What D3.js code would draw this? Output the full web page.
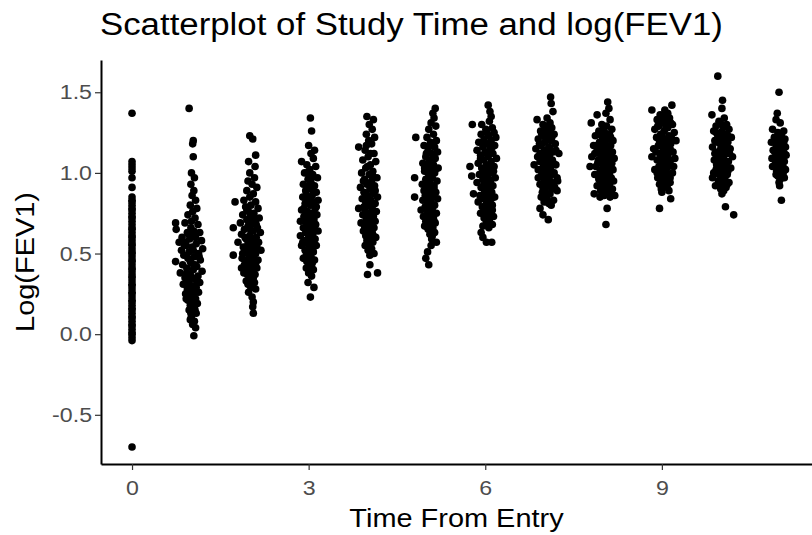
<!DOCTYPE html>
<html>
<head>
<meta charset="utf-8">
<script src="https://cdn.jsdelivr.net/npm/d3@7"></script>
<style>
  body { margin:0; background:#fff; }
  svg { font-family: "Liberation Sans", Arial, sans-serif; }
</style>
</head>
<body>
<div id="chart"></div>
<script>
// baseline visit: everyone at time 0
const visit0 = [1.37,1.07,1.05,1.03,1.01,0.97,0.91,0.85,0.83,0.82,0.80,0.78,0.77,0.75,0.73,0.72,0.70,0.68,0.66,0.65,0.63,0.61,0.60,0.58,0.56,0.55,0.53,0.51,0.50,0.48,0.46,0.45,0.43,0.41,0.40,0.38,0.36,0.35,0.33,0.31,0.30,0.28,0.26,0.25,0.23,0.21,0.20,0.18,0.16,0.15,0.13,0.11,0.10,0.08,0.06,0.05,0.03,0.01,0.00,-0.02,-0.04,-0.70];

// follow up visits: [time from entry, log(FEV1)]
const visit1 = [[0.97,1.40],[1.04,1.20],[1.03,1.18],[1.04,1.10],[1.01,1.00],[1.06,0.97],[1.00,0.93],[1.05,0.89],[1.02,0.86],[1.08,0.83],[0.99,0.80],[1.10,0.78],[1.03,0.76],[0.95,0.74],[1.07,0.72],[0.74,0.69],[0.90,0.69],[1.12,0.68],[0.75,0.65],[1.00,0.66],[0.94,0.63],[1.15,0.63],[1.05,0.61],[0.85,0.60],[0.98,0.59],[1.18,0.58],[0.80,0.57],[1.09,0.56],[0.92,0.55],[1.02,0.54],[1.20,0.53],[0.84,0.52],[0.97,0.51],[1.13,0.50],[0.88,0.49],[1.06,0.48],[0.74,0.45],[0.95,0.47],[1.16,0.46],[1.01,0.44],[0.86,0.43],[1.10,0.42],[0.93,0.41],[1.04,0.40],[1.19,0.39],[0.82,0.38],[0.99,0.37],[1.12,0.36],[0.90,0.35],[1.07,0.34],[0.96,0.33],[1.15,0.32],[0.87,0.31],[1.02,0.30],[1.09,0.29],[0.94,0.28],[1.00,0.27],[1.13,0.26],[0.91,0.25],[1.05,0.24],[0.98,0.23],[1.08,0.22],[0.95,0.21],[1.03,0.20],[1.11,0.19],[0.99,0.18],[1.06,0.17],[0.97,0.15],[1.04,0.14],[1.09,0.13],[1.01,0.11],[0.99,0.09],[1.06,0.08],[1.03,0.06],[1.08,0.04],[1.05,-0.01],
  [0.96,0.62],[1.08,0.60],[0.91,0.57],[1.04,0.52],[0.99,0.45],[1.07,0.43],[0.93,0.38],[1.02,0.35],[1.11,0.33],[0.97,0.29],[1.05,0.27],[0.92,0.22],[1.01,0.21],[1.07,0.15],[1.00,0.13],[0.89,0.55],[1.14,0.48],[1.01,0.70],[1.05,0.64]];
const visit2 = [[2.00,1.23],[2.05,1.21],[2.10,1.11],[1.98,1.07],[2.09,1.04],[2.00,1.00],[2.08,0.97],[1.97,0.95],[2.04,0.93],[2.12,0.91],[1.95,0.89],[2.06,0.87],[2.00,0.85],[1.90,0.83],[1.75,0.82],[2.10,0.82],[2.02,0.80],[1.93,0.79],[2.14,0.78],[1.98,0.76],[2.07,0.75],[1.88,0.74],[2.01,0.73],[2.16,0.72],[1.95,0.71],[2.09,0.70],[1.84,0.69],[2.03,0.68],[1.72,0.66],[1.97,0.67],[2.13,0.66],[1.91,0.65],[2.06,0.64],[2.18,0.63],[1.86,0.62],[2.00,0.61],[2.11,0.60],[1.94,0.59],[2.04,0.58],[1.80,0.57],[2.15,0.57],[1.97,0.56],[2.08,0.55],[1.89,0.54],[2.02,0.53],[2.19,0.52],[1.93,0.51],[2.10,0.50],[1.72,0.49],[1.99,0.49],[2.05,0.47],[1.87,0.47],[2.14,0.46],[1.96,0.45],[2.07,0.44],[1.91,0.43],[2.01,0.42],[2.12,0.41],[1.86,0.41],[1.95,0.40],[2.05,0.39],[1.90,0.38],[2.09,0.37],[1.99,0.36],[2.03,0.34],[1.94,0.33],[2.08,0.32],[1.97,0.31],[2.02,0.29],[2.10,0.28],[1.98,0.26],[2.04,0.23],[2.06,0.20],[2.05,0.17],[2.06,0.13],
  [2.02,0.64],[1.92,0.60],[2.08,0.58],[1.98,0.53],[2.12,0.54],[1.88,0.50],[2.04,0.50],[1.93,0.46],[2.10,0.44],[2.00,0.40],[1.96,0.37],[2.06,0.35],[1.99,0.70],[2.11,0.68],[1.95,0.77],[2.05,0.73],[2.01,0.30]];
const visit3 = [[3.03,1.34],[3.05,1.26],[3.00,1.17],[3.10,1.14],[3.04,1.12],[2.88,1.07],[3.08,1.09],[2.97,1.05],[3.12,1.04],[3.02,1.02],[2.93,1.00],[3.07,0.99],[3.15,0.97],[2.99,0.96],[3.04,0.94],[2.91,0.93],[3.10,0.92],[3.01,0.90],[2.95,0.89],[3.13,0.88],[3.06,0.86],[2.90,0.85],[3.00,0.84],[3.16,0.83],[3.08,0.82],[2.94,0.81],[3.03,0.80],[3.11,0.78],[2.88,0.77],[2.98,0.76],[3.06,0.75],[3.14,0.74],[2.92,0.73],[3.02,0.72],[3.09,0.71],[2.86,0.70],[2.97,0.69],[3.12,0.68],[3.04,0.67],[2.91,0.66],[3.00,0.65],[3.16,0.64],[2.95,0.63],[3.07,0.62],[2.86,0.61],[3.02,0.60],[3.11,0.59],[2.93,0.58],[3.05,0.57],[2.98,0.56],[2.88,0.55],[3.13,0.55],[3.01,0.53],[2.94,0.52],[3.08,0.51],[2.99,0.50],[3.04,0.48],[2.91,0.47],[3.10,0.46],[2.97,0.45],[3.06,0.44],[3.02,0.42],[2.96,0.41],[3.08,0.40],[3.00,0.38],[3.05,0.36],[2.99,0.32],[3.09,0.29],[3.03,0.23],
  [3.00,0.92],[3.09,0.88],[2.96,0.86],[3.05,0.81],[2.92,0.78],[3.13,0.79],[3.01,0.74],[2.95,0.70],[3.06,0.69],[3.10,0.65],[2.99,0.62],[3.03,0.58],[2.90,0.57],[3.08,0.54],[2.96,0.49],[3.02,0.45],[3.05,0.97],[2.97,1.00]];
const visit4 = [[3.99,1.35],[4.10,1.33],[4.03,1.30],[4.08,1.27],[3.98,1.24],[4.12,1.22],[4.02,1.20],[3.85,1.16],[4.07,1.18],[3.96,1.14],[4.11,1.12],[4.01,1.10],[3.92,1.08],[4.14,1.07],[4.05,1.05],[3.97,1.03],[4.09,1.01],[3.90,1.00],[4.03,0.99],[4.16,0.97],[3.95,0.96],[4.07,0.95],[3.99,0.93],[4.12,0.92],[3.88,0.91],[4.04,0.90],[3.94,0.88],[4.10,0.87],[4.00,0.86],[4.17,0.85],[3.91,0.84],[4.06,0.83],[3.97,0.82],[4.13,0.81],[4.02,0.80],[3.85,0.78],[4.08,0.78],[3.96,0.77],[4.15,0.76],[4.01,0.75],[3.92,0.74],[4.10,0.73],[4.04,0.72],[3.98,0.71],[4.13,0.70],[3.89,0.69],[4.06,0.68],[3.95,0.67],[4.11,0.66],[4.00,0.65],[3.93,0.64],[4.08,0.63],[4.02,0.62],[3.97,0.61],[4.14,0.60],[4.05,0.59],[3.99,0.58],[4.09,0.57],[4.03,0.56],[3.96,0.55],[4.07,0.53],[4.01,0.52],[4.11,0.50],[4.04,0.49],[4.04,0.43],[4.00,0.37],[4.17,0.38],
  [4.00,1.04],[4.08,0.99],[3.93,0.95],[4.03,0.93],[4.13,0.89],[3.97,0.87],[4.06,0.80],[3.94,0.79],[4.11,0.76],[4.00,0.72],[4.07,0.70],[3.96,0.68],[4.03,0.64],[4.10,0.61],[4.00,0.59],[4.05,1.12],[3.98,1.17]];
const visit5 = [[5.15,1.40],[5.11,1.37],[5.13,1.34],[5.08,1.31],[5.16,1.29],[5.04,1.27],[4.82,1.22],[5.12,1.24],[5.01,1.22],[5.17,1.20],[5.07,1.19],[4.96,1.17],[5.14,1.16],[5.03,1.14],[5.19,1.13],[5.09,1.12],[4.99,1.10],[5.15,1.09],[5.05,1.08],[4.94,1.06],[5.12,1.05],[5.01,1.04],[5.20,1.03],[5.08,1.02],[4.97,1.01],[5.14,1.00],[5.04,0.99],[4.80,0.97],[5.10,0.97],[4.99,0.96],[5.18,0.95],[5.06,0.94],[4.93,0.93],[5.13,0.92],[5.02,0.91],[5.09,0.90],[4.96,0.89],[5.16,0.88],[5.05,0.87],[4.80,0.85],[5.11,0.86],[5.00,0.85],[5.19,0.84],[4.94,0.83],[5.08,0.82],[5.03,0.81],[5.14,0.80],[4.98,0.79],[5.10,0.78],[4.91,0.77],[5.06,0.76],[5.17,0.75],[5.01,0.74],[4.95,0.73],[5.12,0.72],[5.04,0.71],[4.99,0.70],[5.15,0.69],[5.07,0.68],[4.97,0.67],[5.11,0.66],[5.03,0.65],[5.14,0.63],[5.06,0.62],[5.10,0.61],[5.09,0.59],[5.17,0.57],[5.08,0.55],[5.02,0.51],[4.99,0.47],[5.04,0.43],
  [5.06,1.17],[5.00,1.12],[5.12,1.11],[5.03,1.06],[4.97,1.03],[5.15,1.02],[5.07,0.98],[5.01,0.93],[5.13,0.90],[4.98,0.86],[5.06,0.83],[5.11,0.80],[5.02,0.77],[5.08,0.73],[5.13,0.70],[5.02,0.68],[5.08,0.65]];
const visit6 = [[6.05,1.42],[6.08,1.38],[6.10,1.35],[5.78,1.30],[5.94,1.30],[6.07,1.32],[6.12,1.28],[6.01,1.27],[6.15,1.25],[5.93,1.24],[6.06,1.23],[6.18,1.22],[5.98,1.21],[6.10,1.20],[5.89,1.19],[6.03,1.18],[6.16,1.17],[5.96,1.16],[6.08,1.15],[5.86,1.14],[6.00,1.13],[6.13,1.12],[5.92,1.11],[6.05,1.10],[6.19,1.09],[5.97,1.08],[6.10,1.07],[5.88,1.06],[6.02,1.05],[5.74,1.04],[6.15,1.04],[5.94,1.03],[6.07,1.02],[5.99,1.01],[6.12,1.00],[5.90,0.99],[5.77,0.98],[6.04,0.98],[6.17,0.97],[5.96,0.96],[6.09,0.95],[5.86,0.94],[6.01,0.93],[6.13,0.92],[5.93,0.91],[6.06,0.90],[5.99,0.89],[6.11,0.88],[5.80,0.87],[5.91,0.86],[6.04,0.86],[6.16,0.85],[5.97,0.84],[6.08,0.83],[5.88,0.82],[6.02,0.81],[6.12,0.80],[5.95,0.79],[6.06,0.78],[6.00,0.77],[6.10,0.76],[5.92,0.75],[6.04,0.74],[6.14,0.73],[5.98,0.72],[6.07,0.71],[6.02,0.70],[6.12,0.68],[5.96,0.67],[6.06,0.66],[5.93,0.63],[5.96,0.60],[6.02,0.57],[6.11,0.57],
  [6.03,1.25],[5.97,1.19],[6.12,1.16],[6.02,1.12],[5.92,1.09],[6.08,1.05],[6.00,1.03],[6.14,1.01],[5.95,0.99],[6.06,0.96],[5.98,0.93],[6.09,0.91],[6.02,0.88],[5.94,0.86],[6.10,0.84],[6.01,0.79],[6.12,0.77],[5.98,0.75],[6.05,0.68]];
const visit7 = [[7.11,1.47],[7.12,1.43],[7.15,1.38],[6.88,1.33],[7.05,1.34],[7.10,1.31],[6.98,1.30],[7.13,1.28],[7.02,1.27],[6.94,1.26],[7.08,1.25],[7.17,1.24],[6.99,1.23],[7.06,1.22],[6.90,1.21],[7.12,1.20],[7.01,1.19],[7.19,1.18],[6.95,1.17],[7.08,1.16],[6.86,1.15],[7.03,1.14],[7.15,1.13],[6.97,1.12],[7.25,1.12],[7.09,1.11],[6.89,1.10],[7.02,1.09],[7.14,1.08],[6.93,1.07],[7.06,1.06],[6.83,1.05],[7.20,1.05],[6.99,1.04],[7.11,1.03],[6.90,1.02],[7.04,1.01],[7.17,1.00],[6.96,0.99],[7.08,0.98],[7.22,0.97],[7.00,0.96],[7.23,0.95],[7.13,0.94],[6.93,0.93],[7.06,0.92],[7.18,0.91],[7.02,0.90],[7.22,0.89],[6.97,0.88],[7.10,0.87],[6.95,0.85],[7.05,0.84],[7.16,0.83],[7.08,0.81],[7.12,0.80],[6.93,0.78],[6.98,0.74],[7.07,0.71],
  [7.04,1.29],[6.96,1.24],[7.13,1.22],[7.03,1.20],[6.92,1.18],[7.10,1.15],[7.00,1.14],[7.20,1.14],[6.93,1.12],[7.06,1.10],[6.98,1.08],[7.16,1.06],[7.08,1.04],[6.95,1.02],[7.13,0.99],[7.02,0.98],[6.90,0.97],[7.10,0.95],[7.02,0.93],[7.14,0.90],[6.98,0.91],[7.05,0.87],[7.00,0.82]];
const visit8 = [[8.08,1.44],[8.10,1.40],[7.90,1.36],[8.05,1.37],[7.80,1.31],[8.12,1.33],[7.98,1.30],[8.06,1.29],[8.15,1.27],[7.93,1.26],[8.03,1.25],[8.11,1.24],[7.87,1.23],[7.99,1.22],[8.08,1.21],[8.17,1.20],[7.94,1.19],[8.04,1.18],[7.84,1.17],[8.13,1.17],[7.97,1.16],[8.07,1.15],[7.90,1.14],[8.01,1.13],[8.16,1.13],[7.95,1.12],[8.09,1.11],[7.81,1.10],[8.03,1.10],[8.19,1.09],[7.92,1.08],[8.06,1.07],[7.98,1.06],[8.12,1.05],[7.78,1.04],[7.88,1.04],[8.02,1.03],[8.17,1.02],[7.95,1.01],[8.08,1.00],[7.86,0.99],[8.01,0.98],[8.14,0.97],[7.93,0.96],[8.05,0.95],[7.99,0.94],[8.11,0.93],[7.90,0.92],[8.03,0.91],[8.16,0.90],[7.96,0.89],[8.08,0.88],[7.85,0.87],[8.20,0.86],[8.02,0.86],[7.95,0.85],[8.12,0.85],[8.07,0.78],[8.05,0.68],
  [8.01,1.28],[7.92,1.24],[8.13,1.22],[8.02,1.20],[7.90,1.17],[8.10,1.16],[7.98,1.14],[8.08,1.13],[7.86,1.12],[8.14,1.10],[7.96,1.09],[8.02,1.07],[8.15,1.06],[7.91,1.06],[8.06,1.03],[7.98,1.02],[8.11,1.00],[7.92,0.98],[8.05,0.97],[8.18,0.95],[7.96,0.93],[8.08,0.91],[7.99,0.88],[8.13,0.88]];
const visit9 = [[9.17,1.42],[9.05,1.39],[8.83,1.39],[9.10,1.37],[8.97,1.36],[9.03,1.35],[9.13,1.34],[8.92,1.33],[9.07,1.32],[9.00,1.31],[9.18,1.30],[8.95,1.29],[9.10,1.28],[8.88,1.27],[9.04,1.26],[9.21,1.25],[8.98,1.24],[9.12,1.23],[8.91,1.22],[9.06,1.21],[9.24,1.20],[9.01,1.19],[9.15,1.18],[8.94,1.17],[9.08,1.16],[8.86,1.15],[9.02,1.14],[9.19,1.13],[8.97,1.12],[9.10,1.11],[8.83,1.10],[9.04,1.10],[9.22,1.09],[8.92,1.08],[9.07,1.07],[9.00,1.06],[9.15,1.05],[8.95,1.04],[9.09,1.03],[8.88,1.02],[9.03,1.01],[9.18,1.00],[8.98,0.99],[9.12,0.98],[8.93,0.97],[9.06,0.96],[9.01,0.95],[9.14,0.94],[8.96,0.93],[9.09,0.92],[9.03,0.91],[8.99,0.90],[9.12,0.89],[9.00,0.88],[9.15,0.84],[8.96,0.78],
  [9.02,1.33],[9.15,1.31],[8.93,1.29],[9.07,1.28],[9.00,1.24],[9.16,1.22],[8.96,1.20],[9.10,1.19],[9.02,1.17],[8.90,1.13],[9.14,1.15],[9.06,1.12],[8.97,1.09],[9.13,1.08],[9.00,1.03],[9.20,1.04],[8.92,1.00],[9.07,1.00],[9.14,0.97],[8.99,0.96],[9.06,0.93]];
const visit10 = [[9.95,1.60],[10.03,1.45],[10.02,1.40],[9.85,1.36],[10.06,1.34],[9.97,1.32],[10.10,1.30],[9.92,1.29],[10.04,1.28],[10.14,1.27],[9.88,1.26],[10.00,1.25],[10.09,1.24],[9.95,1.23],[10.18,1.22],[10.05,1.21],[9.90,1.20],[10.12,1.19],[9.99,1.18],[10.07,1.17],[9.86,1.16],[10.16,1.15],[10.02,1.14],[9.94,1.13],[10.10,1.12],[9.98,1.11],[10.20,1.10],[10.05,1.09],[9.89,1.08],[10.13,1.07],[10.00,1.06],[9.93,1.05],[10.08,1.04],[10.17,1.03],[9.97,1.02],[10.04,1.01],[9.88,1.00],[10.11,0.99],[10.01,0.98],[9.86,0.97],[10.07,0.96],[9.96,0.95],[10.14,0.94],[10.03,0.93],[9.91,0.92],[10.09,0.91],[10.00,0.90],[10.05,0.89],[10.02,0.87],[10.08,0.79],[10.22,0.74],
  [10.02,1.30],[9.92,1.25],[10.12,1.23],[10.03,1.22],[9.95,1.19],[10.10,1.16],[10.00,1.15],[9.90,1.12],[10.15,1.12],[10.04,1.11],[9.96,1.08],[10.09,1.07],[10.02,1.04],[9.92,1.02],[10.12,1.01],[9.97,0.99],[10.06,0.98],[9.99,0.94],[10.11,0.93],[10.05,0.91]];
const visit11 = [[10.99,1.50],[10.96,1.37],[10.94,1.33],[11.01,1.31],[10.88,1.27],[11.07,1.26],[10.97,1.25],[11.03,1.24],[10.91,1.22],[11.09,1.21],[10.99,1.20],[10.86,1.19],[11.05,1.18],[10.94,1.17],[11.10,1.16],[11.00,1.15],[10.89,1.14],[11.06,1.13],[10.96,1.12],[11.11,1.11],[11.02,1.10],[10.87,1.09],[10.98,1.08],[11.08,1.07],[10.93,1.06],[11.04,1.05],[10.88,1.04],[11.00,1.03],[11.10,1.02],[10.95,1.01],[11.06,1.00],[11.02,0.99],[10.97,0.98],[11.08,0.97],[11.01,0.96],[10.99,0.94],[11.00,0.92],[11.03,0.83],
  [11.00,1.22],[10.93,1.20],[11.07,1.19],[10.97,1.16],[11.04,1.15],[10.92,1.13],[11.08,1.12],[11.00,1.11],[10.94,1.09],[11.05,1.08],[10.99,1.06],[11.07,1.03],[10.97,1.02],[11.03,1.01],[10.94,0.99]];

const xTicks = [0,3,6,9];
const yTicks = [-0.5,0.0,0.5,1.0,1.5];

class FevScatter {
    constructor(container,data) {
        this.container = container;
        this.data = data;
        this.width = 812;
        this.height = 535;
        this.margin = {top:60,right:0,bottom:71,left:101};
        this.init();
    }
    init(){
        this.svg = d3.select(this.container)
            .append("svg")
            .attr("width",this.width)
            .attr("height",this.height);
    }
    render(){
        const m = this.margin;
        this.x = d3.scaleLinear()
            .domain([-0.527,11.55])
            .range([m.left,this.width - m.right]);
        this.y = d3.scaleLinear()
            .domain([-0.805,1.70])
            .range([this.height - m.bottom,m.top]);

        // points
        this.svg.append("g")
            .selectAll("circle")
            .data(this.data)
            .enter()
            .append("circle")
            .attr("cx",d => this.x(d.time))
            .attr("cy",d => this.y(d.fev))
            .attr("r",3.8)
            .attr("fill","black");

        const yFmt = d => d3.format(".1f")(d).replace("\u2212","-");
        const xAxis = this.svg.append("g")
            .attr("transform",`translate(0,${this.height - m.bottom})`)
            .call(d3.axisBottom(this.x).tickValues(xTicks).tickFormat(d3.format("d")).tickSize(6).tickPadding(10).tickSizeOuter(0));
        const yAxis = this.svg.append("g")
            .attr("transform",`translate(${m.left},0)`)
            .call(d3.axisLeft(this.y).tickValues(yTicks).tickFormat(yFmt).tickSize(6).tickPadding(3).tickSizeOuter(0));

        [xAxis,yAxis].forEach(a => {
            a.select(".domain").attr("stroke","black").attr("stroke-width",2);
            a.selectAll(".tick line").attr("stroke","#333").attr("stroke-width",1.2);
            a.selectAll(".tick text")
                .attr("fill","#4d4d4d")
                .style("font-size","20.5px")
                .style("font-family","Liberation Sans, Arial, sans-serif");
        });

        this.svg.append("text")
            .attr("x",100)
            .attr("y",35)
            .text("Scatterplot of Study Time and log(FEV1)")
            .style("font-size","30.8px")
            .attr("fill","black");

        this.svg.append("text")
            .attr("transform",`translate(${34},${(m.top + this.height - m.bottom) / 2}) rotate(-90)`)
            .style("text-anchor","middle")
            .style("font-size","25.6px")
            .text("Log(FEV1)");

        this.svg.append("text")
            .attr("x",(m.left + this.width - m.right) / 2)
            .attr("y",527)
            .style("text-anchor","middle")
            .style("font-size","25.6px")
            .text("Time From Entry");

        // the reference type is a little wider than Liberation Sans
        this.svg.selectAll("text").each(function(){
            const w = this.getComputedTextLength();
            d3.select(this).attr("textLength",w * 1.13).attr("lengthAdjust","spacingAndGlyphs");
        });
    }
}

const points = [];
visit0.forEach(v => points.push({time:0,fev:v}));
[visit1,visit2,visit3,visit4,visit5,visit6,visit7,visit8,visit9,visit10,visit11]
    .forEach(arr => arr.forEach(([t,v]) => points.push({time:t,fev:v})));

const chart = new FevScatter("#chart",points);
chart.render();
</script>
</body>
</html>
